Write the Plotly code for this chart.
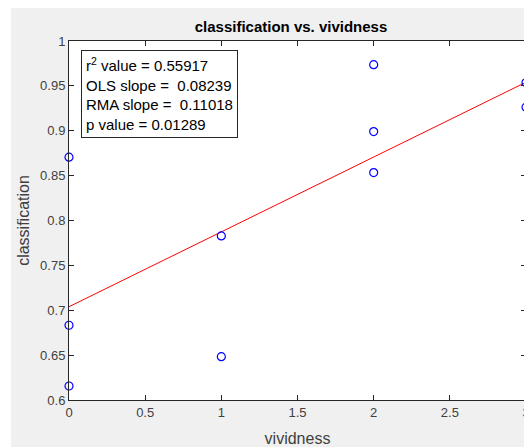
import numpy as np
import plotly.graph_objects as go

vividness = [0, 0, 0, 1, 1, 2, 2, 2, 3, 3]
classification = [0.8706, 0.6833, 0.6156, 0.7828, 0.6483, 0.9736, 0.8991, 0.8534, 0.9537, 0.9263]
x_ticks = [0, 0.5, 1, 1.5, 2, 2.5, 3]
y_ticks = [0.6, 0.65, 0.7, 0.75, 0.8, 0.85, 0.9, 0.95, 1]
stats_labels = ["r<sup>2</sup> value = 0.55917", "OLS slope = \u00a00.08239",
                "RMA slope = \u00a00.11018", "p value = 0.01289"]

slope, intercept = np.polyfit(vividness, classification, 1)
fit_x = [min(vividness), max(vividness)]
fit_y = [intercept + slope * v for v in fit_x]

# page body adds an 8px offset, so the figure is drawn 8px smaller
W, H = 524, 439
L, R, T, B = 61, 5.5, 33, 47
pw = W - L - R
ph = H - T - B
font = "Liberation Sans, Arial, sans-serif"
axcol = "#262626"
labcol = "#404040"

fig = go.Figure()
fig.add_trace(go.Scatter(x=fit_x, y=fit_y, mode="lines",
                         line=dict(color="#ff0000", width=1), showlegend=False))
fig.add_trace(go.Scatter(x=vividness, y=classification, mode="markers",
                         marker=dict(symbol="circle-open", size=8, color="#0000ff",
                                     line=dict(width=1.2, color="#0000ff")),
                         showlegend=False, cliponaxis=False))

shapes = [
    dict(type="rect", xref="paper", yref="paper",
         x0=(3 - L) / pw, x1=(W - L) / pw + 0.02, y0=-B / ph - 0.02, y1=(H - B) / ph + 0.02,
         fillcolor="#f0f0f0", line=dict(width=0), layer="below"),
    dict(type="rect", xref="paper", yref="paper", x0=0, x1=1, y0=0, y1=1,
         fillcolor="#ffffff", line=dict(width=0), layer="below"),
]

axis_common = dict(ticks="inside", ticklen=5, tickcolor=axcol, showline=True, linecolor=axcol,
                   linewidth=1, mirror="allticks", showgrid=False, zeroline=False,
                   automargin=False, tickfont=dict(size=13, color=labcol, family=font))

fig.update_layout(
    width=W, height=H,
    margin=dict(l=L, r=R, t=T, b=B, pad=0),
    paper_bgcolor="#ffffff", plot_bgcolor="#ffffff",
    font=dict(family=font, size=13, color=axcol),
    shapes=shapes,
    title=dict(text="<b>classification vs. vividness</b>", xref="container", yref="container",
               x=283 / W, y=1 - 19 / H, xanchor="center", yanchor="middle",
               font=dict(size=15, color="#000000", family=font)),
    xaxis=dict(range=[0, 3], tickvals=x_ticks, ticktext=[f"{v:g}" for v in x_ticks],
               title=dict(text="vividness", font=dict(size=16, color=labcol, family=font), standoff=14),
               **axis_common),
    yaxis=dict(range=[0.6, 1], tickvals=y_ticks, ticktext=[f"{v:g}" for v in y_ticks],
               title=dict(text="classification", font=dict(size=16, color=labcol, family=font), standoff=6),
               **axis_common),
    annotations=[dict(text="<br>".join(stats_labels), xref="paper", yref="paper",
                      x=(73 - L) / pw, y=1 - (42 - T) / ph, xanchor="left", yanchor="top",
                      align="left", showarrow=False, bgcolor="#ffffff",
                      bordercolor="#262626", borderwidth=1, borderpad=4,
                      font=dict(size=15, color="#000000", family=font))],
)

fig.write_html("out.html")
